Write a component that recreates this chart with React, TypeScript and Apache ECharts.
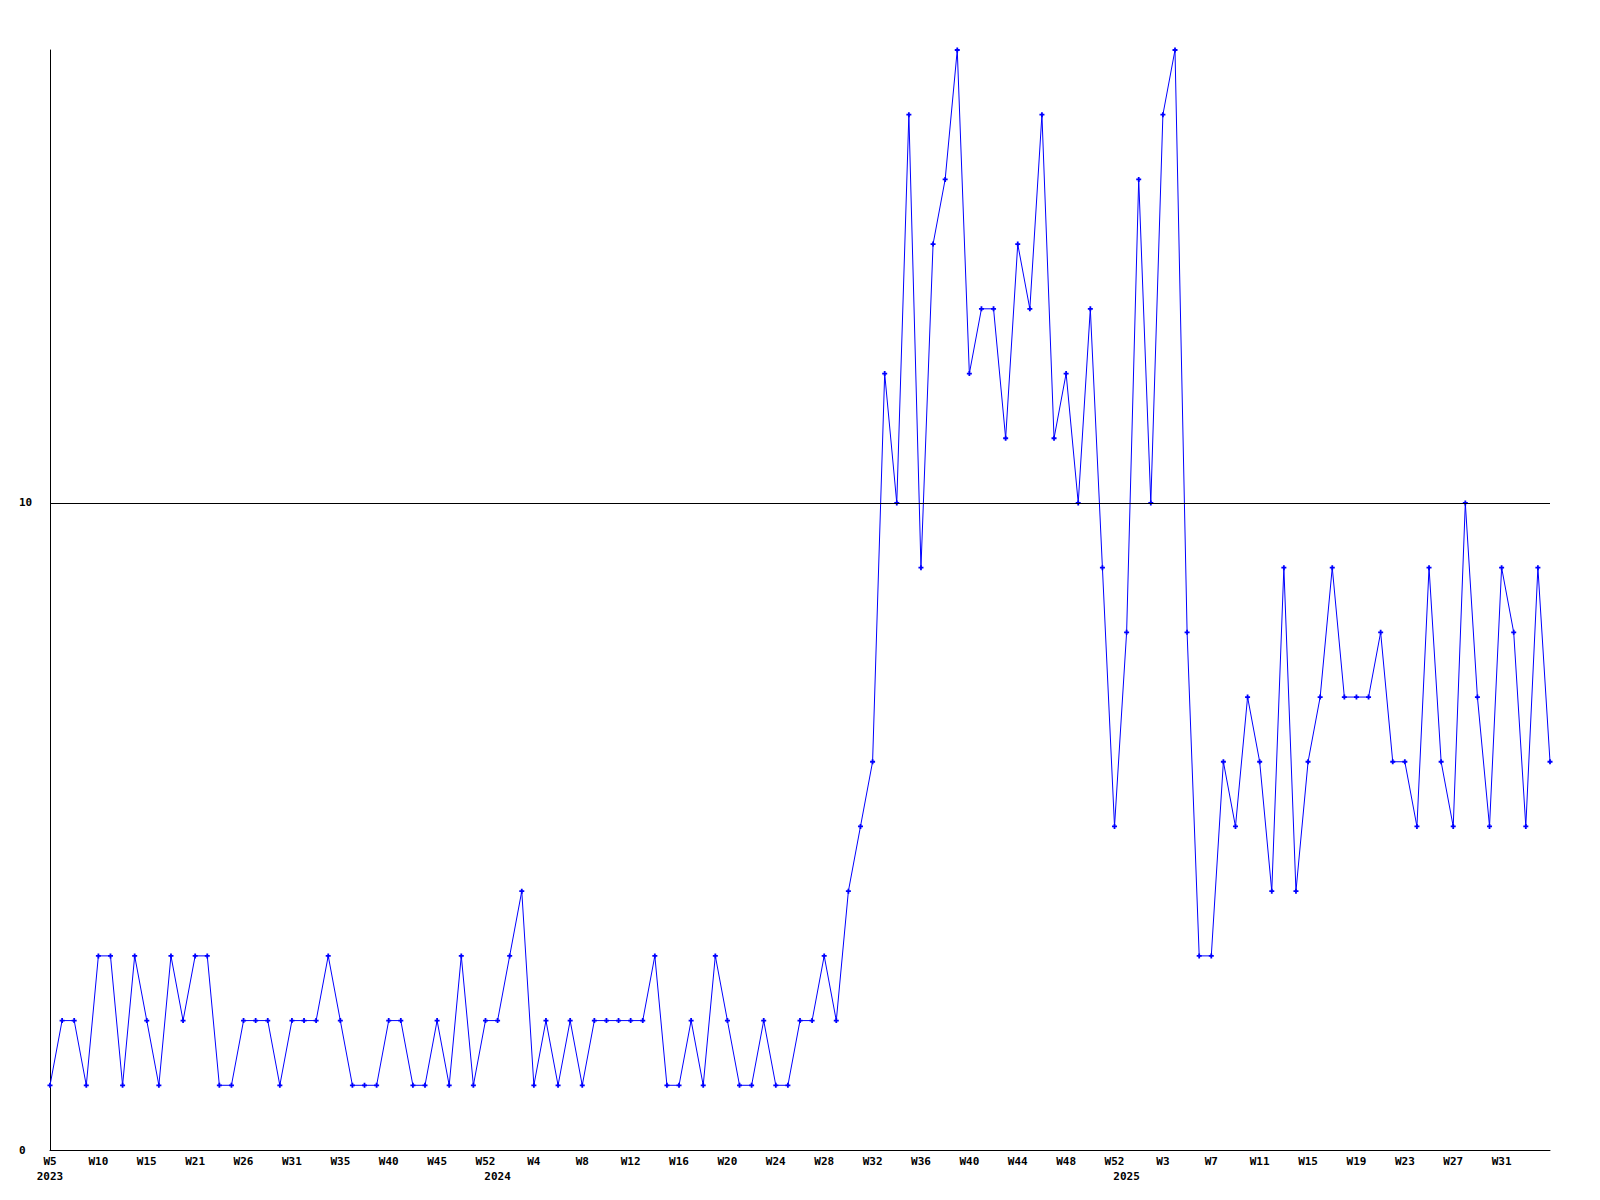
import React, { useEffect, useRef } from "react";
import * as echarts from "echarts";

// Week labels per year (some 2023 weeks absent from the source data)
const weeks2023 = [5, 6, 7, 8, 10, 11, 12, 13, 15, 16, 18, 19, 21, 22, 23, 24, 26, 27, 28, 29, 31, 32, 33, 34, 35, 36, 37, 38, 40, 41, 42, 43, 45, 46, 48, 50, 52];
const weeks2024 = [1, 2, 3, 4, 5, 6, 7, 8, 9, 10, 11, 12, 13, 14, 15, 16, 17, 18, 19, 20, 21, 22, 23, 24, 25, 26, 27, 28, 29, 30, 31, 32, 33, 34, 35, 36, 37, 38, 39, 40, 41, 42, 43, 44, 45, 46, 47, 48, 49, 50, 51, 52];
const weeks2025 = [0, 1, 2, 3, 4, 5, 6, 7, 8, 9, 10, 11, 12, 13, 14, 15, 16, 17, 18, 19, 20, 21, 22, 23, 24, 25, 26, 27, 28, 29, 30, 31, 32, 33, 34, 35];

const values2023 = [1, 2, 2, 1, 3, 3, 1, 3, 2, 1, 3, 2, 3, 3, 1, 1, 2, 2, 2, 1, 2, 2, 2, 3, 2, 1, 1, 1, 2, 2, 1, 1, 2, 1, 3, 1, 2];
const values2024 = [2, 3, 4, 1, 2, 1, 2, 1, 2, 2, 2, 2, 2, 3, 1, 1, 2, 1, 3, 2, 1, 1, 2, 1, 1, 2, 2, 3, 2, 4, 5, 6, 12, 10, 16, 9, 14, 15, 17, 12, 13, 13, 11, 14, 13, 16, 11, 12, 10, 13, 9, 5];
const values2025 = [8, 15, 10, 16, 17, 8, 3, 3, 6, 5, 7, 6, 4, 9, 4, 6, 7, 9, 7, 7, 7, 8, 6, 6, 5, 9, 6, 5, 10, 7, 5, 9, 8, 5, 9, 6];

const yTickLabels = [0, 10];
const yMax = 17;
const refLine = 10;

export default function App() {
  const ref = useRef<HTMLDivElement>(null);

  useEffect(() => {
    if (!ref.current) return;
    const chart = echarts.init(ref.current, undefined, { renderer: "svg" });

    const categories: string[] = [
      ...weeks2023.map((w) => `2023-W${w}`),
      ...weeks2024.map((w) => `2024-W${w}`),
      ...weeks2025.map((w) => `2025-W${w}`),
    ];
    const values = [...values2023, ...values2024, ...values2025];
    const yearStarts = [0, weeks2023.length, weeks2023.length + weeks2024.length];
    const lastIdx = categories.length - 1;

    const font = {
      fontFamily: "DejaVu Sans Mono",
      fontWeight: "bold" as const,
      fontSize: 11,
      color: "#000",
    };

    const plus = "path://M1.6,0H3.4V1.6H5V3.4H3.4V5H1.6V3.4H0V1.6H1.6Z";

    chart.setOption({
      animation: false,
      backgroundColor: "#fff",
      grid: { left: 50, right: 50, top: 50, bottom: 50, containLabel: false },
      xAxis: [
        {
          type: "category",
          data: categories,
          boundaryGap: false,
          position: "bottom",
          axisLine: { show: true, lineStyle: { color: "#000", width: 1 } },
          axisTick: { show: false },
          splitLine: { show: false },
          axisLabel: {
            ...font,
            margin: 6,
            hideOverlap: false,
            interval: (i: number) => i % 4 === 0 && i < lastIdx,
            formatter: (v: string) => v.split("-")[1],
          },
        },
        {
          type: "category",
          data: categories,
          boundaryGap: false,
          position: "bottom",
          offset: 0,
          axisLine: { show: false },
          axisTick: { show: false },
          splitLine: { show: false },
          axisLabel: {
            ...font,
            margin: 21,
            hideOverlap: false,
            interval: (i: number) => yearStarts.includes(i),
            formatter: (v: string) => v.split("-")[0],
          },
        },
      ],
      yAxis: {
        type: "value",
        min: 0,
        max: yMax,
        interval: 10,
        axisLine: { show: true, lineStyle: { color: "#000", width: 1 } },
        axisTick: { show: false },
        splitLine: { show: false },
        axisLabel: {
          ...font,
          align: "left",
          margin: 31,
          showMaxLabel: false,
          formatter: (v: number) => (yTickLabels.includes(v) ? String(v) : ""),
        },
      },
      series: [
        {
          type: "line",
          xAxisIndex: 0,
          data: values,
          symbol: plus,
          symbolSize: 5,
          showAllSymbol: true,
          color: "#0000ff",
          itemStyle: { color: "#0000ff" },
          lineStyle: { color: "#0000ff", width: 1 },
          markLine: {
            silent: true,
            symbol: ["none", "none"],
            label: { show: false },
            lineStyle: { color: "#000", type: "solid", width: 1 },
            data: [{ yAxis: refLine }],
          },
        },
      ],
    });

    return () => chart.dispose();
  }, []);

  return (
    <div
      ref={ref}
      style={{ position: "absolute", left: 0, top: 0, width: 1600, height: 1200 }}
    />
  );
}
